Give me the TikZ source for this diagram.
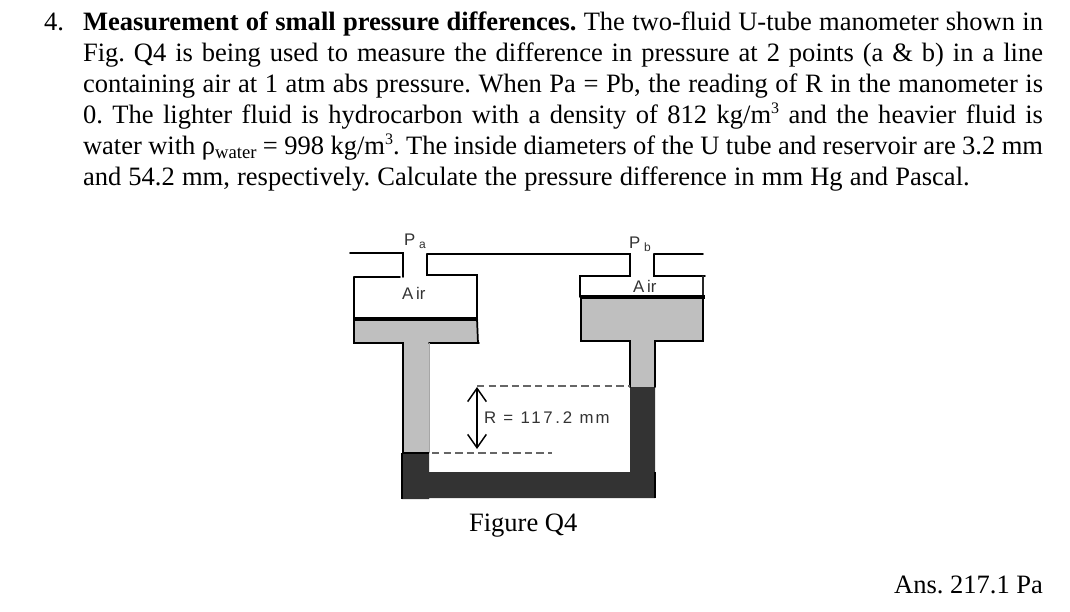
\documentclass[tikz,border=0pt]{standalone}
\usepackage{fontspec}
\setmainfont{Liberation Serif}
\newfontfamily\figsans{Liberation Sans}
\usetikzlibrary{arrows.meta}
\frenchspacing
\definecolor{lightfluid}{HTML}{BFBFBF}
\definecolor{darkfluid}{HTML}{333333}
\definecolor{labelgrey}{HTML}{333333}
\newcommand{\bodysize}{\fontsize{19.9pt}{23pt}\selectfont}
\newcommand{\jline}[1]{\hbox to 720pt{#1}}
\newcommand{\sups}[1]{\raisebox{7pt}{\fontsize{12pt}{14pt}\selectfont #1}}
\tikzset{
  x=0.75pt, y=-0.75pt,
  bodyline/.style={anchor=base west, inner sep=0pt, outer sep=0pt, font=\bodysize},
  wall/.style={draw=black, line width=1.3pt, line cap=round},
  thinwall/.style={draw=black!85, line width=1pt, line cap=round},
  level/.style={draw=black, line width=2.4pt},
  gfluid/.style={fill=lightfluid, draw=none},
  dfluid/.style={fill=darkfluid, draw=none},
  datum/.style={draw=black!60, line width=1pt, dash pattern=on 5.5pt off 3.2pt},
  figlabel/.style={inner sep=0pt, outer sep=0pt, text=labelgrey, font=\figsans\fontsize{12.6pt}{15pt}\selectfont},
  dimline/.style={draw=black, line width=1.1pt, {Straight Barb[length=10pt,width=14pt,line width=1.1pt]}-{Straight Barb[length=10pt,width=14pt,line width=1.1pt]}}
}
\begin{document}
\begin{tikzpicture}
\useasboundingbox[fill=white] (0,0) rectangle (1070,611);
% text
\node[bodyline] (num) at (44,30) {4.};
\node[bodyline] (l1) at (83,30) {\jline{\textbf{Measurement of small pressure differences.} The two-fluid U-tube manometer shown in}};
\node[bodyline] (l2) at (83,61) {\jline{Fig. Q4 is being used to measure the difference in pressure at 2 points (a \& b) in a line}};
\node[bodyline] (l3) at (83,92) {\jline{containing air at 1 atm abs pressure. When Pa = Pb, the reading of R in the manometer is}};
\node[bodyline] (l4) at (83,123) {\jline{0. The lighter fluid is hydrocarbon with a density of 812 kg/m\sups{3} and the heavier fluid is}};
\node[bodyline] (l5) at (83,154) {\jline{water with ρ\raisebox{-3pt}{\fontsize{14pt}{16pt}\selectfont water} = 998 kg/m\sups{3}. The inside diameters of the U tube and reservoir are 3.2 mm}};
\node[bodyline] (l6) at (83,185) {\hbox to 665pt{and 54.2 mm, respectively. Calculate the pressure difference in mm Hg and Pascal.}};
\node[bodyline] (fig) at (469,531) {Figure Q4};
\node[bodyline, anchor=base east] (ans) at (1043,593) {Ans. 217.1 Pa};
% fluids
\fill[gfluid] (354,319) -- (478,319) -- (478,343) -- (429,343) -- (429,453) -- (403,453) -- (403,343) -- (354,343) -- cycle;
\fill[gfluid] (581,297) -- (703,297) -- (703,341) -- (655,341) -- (655,387) -- (630,387) -- (630,341) -- (581,341) -- cycle;
\fill[dfluid] (402,453) -- (429,453) -- (429,472) -- (630,472) -- (630,387) -- (655,387) -- (655,498) -- (429,498) -- (429,499) -- (402,499) -- cycle;
% left reservoir
\coordinate (aStubL) at (350,253);
\coordinate (aStubR) at (403,253);
\coordinate (aNeckL) at (403,277);
\coordinate (aLowL) at (354,277);
\coordinate (aBaseL) at (354,343);
\coordinate (aNeckBL) at (403,343);
\coordinate (aTubeBL) at (403,453);
\coordinate (aPipeL) at (427,254);
\coordinate (aPipeLow) at (427,275);
\coordinate (aLowR) at (477,275);
\coordinate (aWallR) at (477,319);
\coordinate (aBaseR) at (479,343);
\coordinate (aNeckBR) at (429,343);
\coordinate (aTubeBR) at (429,453);
\draw[wall] (aStubL) -- (aStubR) -- (aNeckL);
\draw[wall] (aLowL) -- (aBaseL) -- (aNeckBL) -- (aTubeBL);
\draw[wall] (354,277) -- (400,277);
\draw[wall] (aPipeL) -- (aPipeLow) -- (aLowR) -- (aWallR);
\draw[wall] (aWallR) -- (478,343) -- (aBaseR);
\draw[wall] (478,343) -- (aNeckBR);
\draw[draw=black!35, line width=.6pt] (aNeckBR) -- (aTubeBR);
\draw[level] (354,319) -- (478,319);
% right reservoir
\coordinate (bPipeR) at (630,254);
\coordinate (bNeckL) at (630,276);
\coordinate (bLowL) at (580,276);
\coordinate (bStubL) at (654,254);
\coordinate (bStubR) at (703,254);
\coordinate (bNeckR) at (654,276);
\coordinate (bLowR) at (705,276);
\draw[wall] (aPipeL) -- (bPipeR) -- (bNeckL) -- (bLowL) -- (580,297);
\draw[wall] (bStubL) -- (bStubR);
\draw[wall] (bStubL) -- (bNeckR) -- (bLowR);
\draw[thinwall] (703,276) -- (703,297);
\draw[level] (581,297) -- (705,297);
\draw[wall] (581,297) -- (581,341) -- (630,341) -- (630,387);
\draw[wall] (703,297) -- (703,341) -- (655,341) -- (655,387);
% U tube outlines
\draw[draw=black, line width=2.2pt] (402,453) -- (429,453);
\draw[draw=black, line width=1pt] (402,453) -- (402,499);
\draw[draw=black, line width=.8pt] (655,472) -- (655,498);
% datum lines and dimension
\coordinate (dTopL) at (477,386);
\coordinate (dTopR) at (630,386);
\coordinate (dLowL) at (432,453);
\coordinate (dLowR) at (552,453);
\coordinate (dimTop) at (477,387);
\coordinate (dimLow) at (477,449);
\draw[datum] (dTopL) -- (dTopR);
\draw[datum] (dLowL) -- (dLowR);
\draw[dimline] (dimTop) -- (dimLow);
% labels
\node[figlabel, anchor=base west] (pa) at (404,245) {P\kern 3pt{\fontsize{9pt}{10pt}\selectfont\raisebox{-2.6pt}{a}}};
\node[figlabel, anchor=base west] (pb) at (629,248) {P\kern 3pt{\fontsize{9pt}{10pt}\selectfont\raisebox{-2.6pt}{b}}};
\node[figlabel, anchor=base west] (aira) at (402,299) {A\kern 2.2pt ir};
\node[figlabel, anchor=base west] (airb) at (633,292) {A\kern 2.2pt ir};
\node[figlabel, anchor=base west] (rlab) at (484,423) {\addfontfeature{LetterSpace=16}R = 117.2 m\kern 1.5pt m};
\end{tikzpicture}
\end{document}
